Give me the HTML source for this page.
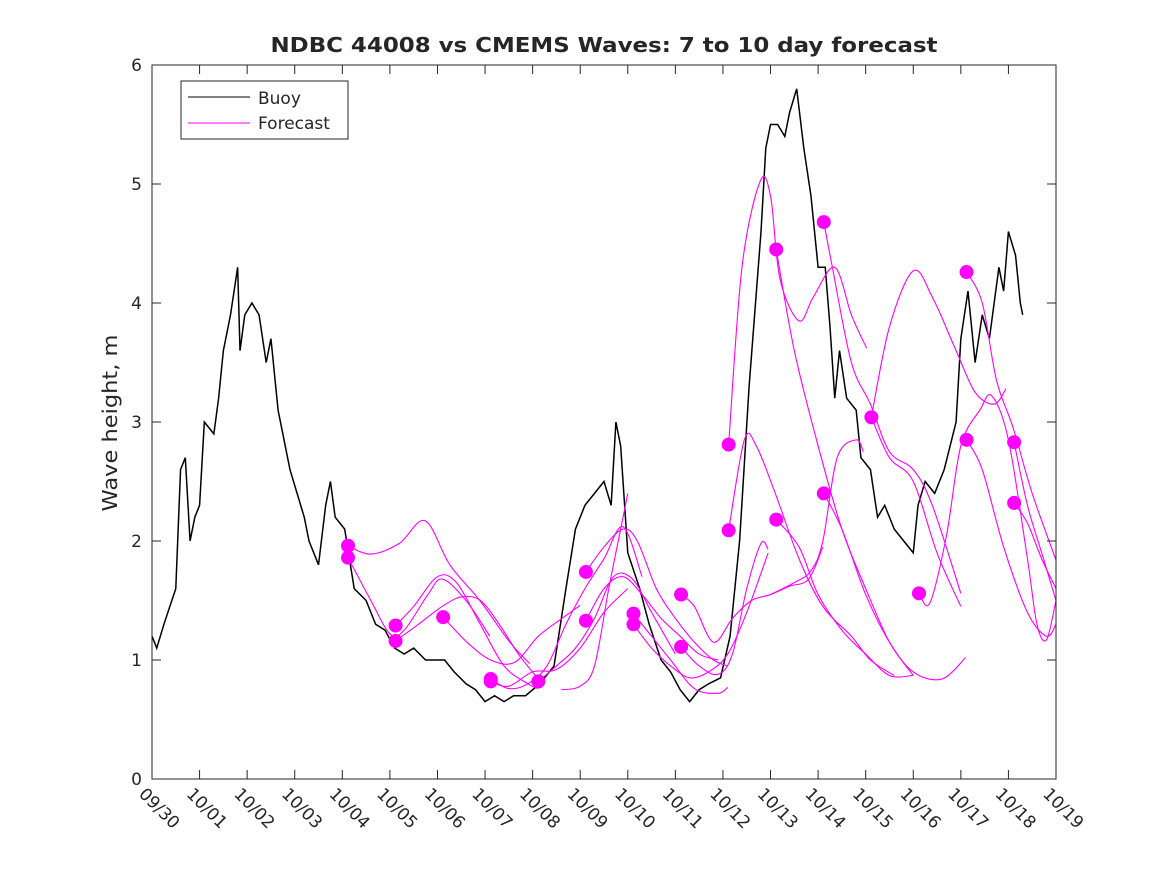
<!DOCTYPE html>
<html><head><meta charset="utf-8"><style>
body{margin:0;background:#fff}
svg{display:block}
text{font-family:"DejaVu Sans","Liberation Sans",sans-serif;fill:#262626}
</style></head><body>
<svg id="chart" width="1167" height="875"></svg>
<script>
const xTickLabels=["09/30","10/01","10/02","10/03","10/04","10/05","10/06","10/07","10/08","10/09","10/10","10/11","10/12","10/13","10/14","10/15","10/16","10/17","10/18","10/19"];
const yTicks=[0,1,2,3,4,5,6];
const buoyDays=[0,0.1,0.25,0.5,0.6,0.7,0.8,0.9,1.0,1.1,1.3,1.4,1.5,1.65,1.8,1.85,1.95,2.1,2.25,2.4,2.5,2.65,2.8,2.9,3.05,3.2,3.3,3.5,3.65,3.75,3.85,4.05,4.25,4.5,4.7,4.9,5.1,5.3,5.5,5.75,5.95,6.15,6.35,6.6,6.8,7.0,7.2,7.4,7.6,7.85,8.15,8.45,8.7,8.9,9.1,9.3,9.5,9.65,9.75,9.85,10.0,10.25,10.45,10.7,10.9,11.1,11.3,11.5,11.7,11.95,12.15,12.35,12.55,12.8,12.9,13.0,13.15,13.3,13.4,13.55,13.7,13.85,14.0,14.15,14.25,14.35,14.45,14.6,14.8,14.9,15.1,15.25,15.4,15.6,15.8,16.0,16.1,16.25,16.45,16.65,16.9,17.0,17.15,17.3,17.45,17.6,17.8,17.9,18.0,18.15,18.25,18.3];
const buoyVals=[1.2,1.1,1.3,1.6,2.6,2.7,2.0,2.2,2.3,3.0,2.9,3.2,3.6,3.9,4.3,3.6,3.9,4.0,3.9,3.5,3.7,3.1,2.8,2.6,2.4,2.2,2.0,1.8,2.3,2.5,2.2,2.1,1.6,1.5,1.3,1.25,1.1,1.05,1.1,1.0,1.0,1.0,0.9,0.8,0.75,0.65,0.7,0.65,0.7,0.7,0.8,0.95,1.6,2.1,2.3,2.4,2.5,2.3,3.0,2.8,1.9,1.6,1.3,1.0,0.9,0.75,0.65,0.75,0.8,0.85,1.2,2.0,3.3,4.6,5.3,5.5,5.5,5.4,5.6,5.8,5.3,4.9,4.3,4.3,3.8,3.2,3.6,3.2,3.1,2.7,2.6,2.2,2.3,2.1,2.0,1.9,2.3,2.5,2.4,2.6,3.0,3.7,4.1,3.5,3.9,3.7,4.3,4.1,4.6,4.4,4.0,3.9];
const fcDays=[
[4.12,4.6,5.2,5.74,6.26,6.89,7.52,7.94],
[4.12,4.6,5.0,5.3,5.8,6.1,6.6,7.1],
[5.12,5.5,6.0,6.4,6.9,7.4,7.9,8.12],
[5.12,5.6,6.1,6.5,6.9,7.3,7.7,8.1],
[6.12,6.62,7.12,7.62,8.12,8.62,9.0],
[7.12,7.5,7.9,8.3,8.7,9.1,9.5,9.9,10.3],
[7.12,7.5,8.0,8.5,9.0,9.5,10.0],
[8.12,8.5,8.9,9.3,9.7,10.1,10.5,11.0],
[8.6,9.0,9.3,9.6,9.85,10.0],
[9.12,9.5,9.9,10.2,10.6,11.0,11.4,11.8,12.1],
[9.12,9.5,9.9,10.3,10.7,11.1,11.5,11.9],
[10.12,10.5,10.9,11.4,11.9,12.1],
[10.12,10.5,10.9,11.3,11.7,12.1,12.5,12.95],
[11.12,11.4,11.8,12.2,12.6,13.0,13.4,13.8,14.1],
[11.12,11.5,11.9,12.2,12.5,12.8,12.95],
[12.12,12.45,12.7,13.1,13.6,14.1,14.7,15.1,15.6],
[12.12,12.4,12.78,13.0,13.2,13.6,13.9,14.35,14.7,15.02],
[13.12,13.5,14.0,14.5,15.0,15.5,16.0],
[13.12,13.6,14.0,14.5,15.0,15.5,16.0],
[13.0,13.5,13.85,14.1,14.4,14.8,14.95],
[14.12,14.3,14.7,15.1,15.5,16.0,16.4,17.0],
[14.12,14.5,15.0,15.5,16.0,16.6,17.1],
[15.12,15.5,16.0,16.4,16.9,17.3,17.7,17.95],
[15.12,15.5,16.0,16.5,17.0],
[16.12,16.35,16.7,17.0,17.4,17.65,18.0,18.4,18.6,18.8,19.0],
[17.12,17.45,17.75,18.1,18.5,19.0],
[17.12,17.45,17.9,18.4,18.8,19.0],
[18.12,18.4,18.7,19.0],
[18.12,18.4,18.7,19.0]];
const fcVals=[
[1.96,1.89,1.98,2.17,1.8,1.5,1.15,0.97],
[1.86,1.5,1.22,1.25,1.55,1.68,1.5,1.2],
[1.29,1.45,1.7,1.65,1.3,0.95,0.8,0.76],
[1.16,1.3,1.45,1.53,1.5,1.3,1.05,0.85],
[1.36,1.15,1.0,0.98,1.2,1.35,1.46],
[0.84,0.76,0.8,0.95,1.3,1.6,1.85,2.12,1.7],
[0.82,0.78,0.9,0.92,1.1,1.4,1.6],
[0.82,0.95,1.1,1.35,1.7,1.68,1.4,1.05],
[0.75,0.78,0.95,1.6,2.1,2.4],
[1.74,1.95,2.1,2.0,1.6,1.35,1.15,1.0,0.95],
[1.33,1.6,1.7,1.55,1.35,1.2,1.05,1.0],
[1.39,1.2,1.0,0.76,0.72,0.77],
[1.3,1.1,0.95,0.85,0.9,1.05,1.4,1.9],
[1.55,1.45,1.15,1.35,1.5,1.55,1.62,1.68,1.95],
[1.11,0.95,0.88,1.05,1.6,1.98,1.93],
[2.09,2.85,2.8,2.4,1.85,1.45,1.2,1.0,0.87],
[2.81,4.3,5.02,4.9,4.2,3.85,4.05,4.3,3.9,3.62],
[4.45,3.6,2.8,2.1,1.6,1.15,0.87],
[2.18,1.95,1.55,1.25,1.05,0.87,0.87],
[1.55,1.65,1.75,2.0,2.7,2.85,2.75],
[4.68,4.3,3.5,3.15,2.75,2.6,2.3,1.56],
[2.4,2.1,1.55,1.15,0.9,0.84,1.02],
[3.04,3.8,4.27,4.05,3.6,3.25,3.15,3.28],
[3.04,2.7,2.5,1.9,1.45],
[1.56,1.48,2.05,2.8,3.1,3.22,2.85,1.85,1.3,1.17,1.5],
[4.26,4.0,3.35,2.95,2.4,1.84],
[2.85,2.6,1.95,1.4,1.2,1.3],
[2.83,2.3,1.9,1.5],
[2.32,2.15,1.85,1.6]];
const dotDays=[4.12,4.12,5.12,5.12,6.12,7.12,7.12,8.12,9.12,9.12,10.12,10.12,11.12,11.12,12.12,12.12,13.12,13.12,14.12,14.12,15.12,16.12,17.12,17.12,18.12,18.12];
const dotVals=[1.96,1.86,1.29,1.16,1.36,0.84,0.82,0.82,1.74,1.33,1.39,1.3,1.55,1.11,2.81,2.09,4.45,2.18,4.68,2.4,3.04,1.56,4.26,2.85,2.83,2.32];

const L=152,R=1056,T=65,B=779;
const xs=d=>L+(R-L)*d/19;
const ys=v=>B-(B-T)*v/6;
const NS="http://www.w3.org/2000/svg";
const svg=document.getElementById('chart');
function mk(tag,attrs,parent){const e=document.createElementNS(NS,tag);for(const k in attrs)e.setAttribute(k,attrs[k]);(parent||svg).appendChild(e);return e;}
function smooth(px){let d=`M${px[0][0]},${px[0][1]}`;for(let i=0;i<px.length-1;i++){const p0=px[Math.max(0,i-1)],p1=px[i],p2=px[i+1],p3=px[Math.min(px.length-1,i+2)];d+=` C${p1[0]+(p2[0]-p0[0])/6},${p1[1]+(p2[1]-p0[1])/6} ${p2[0]-(p3[0]-p1[0])/6},${p2[1]-(p3[1]-p1[1])/6} ${p2[0]},${p2[1]}`;}return d;}

const bg=mk('rect',{x:L,y:T,width:R-L,height:B-T,fill:'#fff'});



const bp=mk('polyline',{points:buoyDays.map((d,i)=>xs(d)+','+ys(buoyVals[i])).join(' '),fill:'none',stroke:'#000','stroke-width':1.5});



fcDays.forEach((ds,i)=>{
  const p=mk('path',{d:smooth(ds.map((d,j)=>[xs(d),ys(fcVals[i][j])])),fill:'none',stroke:'#ff00ff','stroke-width':1.1});
  
  
});
dotDays.forEach((d,i)=>{
  const c=mk('circle',{cx:xs(d),cy:ys(dotVals[i]),r:7,fill:'#ff00ff'});
  
  
});

const box=mk('rect',{x:L,y:T,width:R-L,height:B-T,fill:'none',stroke:'#262626','stroke-width':1});



yTicks.forEach(v=>{
  const y=ys(v);
  mk('line',{x1:L,x2:L+9,y1:y,y2:y,stroke:'#262626'});
  mk('line',{x1:R,x2:R-9,y1:y,y2:y,stroke:'#262626'});
  const t=mk('text',{x:L-10,y:y+6,'text-anchor':'end','font-size':17});
  t.textContent=v;
  
  
});
xTickLabels.forEach((lab,i)=>{
  const x=xs(i);
  mk('line',{x1:x,x2:x,y1:B,y2:B-9,stroke:'#262626'});
  mk('line',{x1:x,x2:x,y1:T,y2:T+9,stroke:'#262626'});
  const t=mk('text',{x:x-14,y:B+16,'font-size':17,transform:`rotate(45 ${x-14} ${B+16})`});
  t.textContent=lab;
  
  
});

const title=mk('text',{x:604,y:52,'text-anchor':'middle','font-size':20,'font-weight':'bold',fill:'#000',textLength:667,lengthAdjust:'spacingAndGlyphs'});
title.textContent='NDBC 44008 vs CMEMS Waves: 7 to 10 day forecast';



const yl=mk('text',{x:117,y:423,'text-anchor':'middle','font-size':20,transform:'rotate(-90 117 423)',textLength:177,lengthAdjust:'spacingAndGlyphs'});
yl.textContent='Wave height, m';



const lg=mk('g',{});


mk('rect',{x:181,y:81,width:167,height:58,fill:'#fff',stroke:'#262626'},lg);
mk('line',{x1:188,x2:250,y1:97,y2:97,stroke:'#000'},lg);
mk('line',{x1:188,x2:250,y1:123,y2:123,stroke:'#ff00ff'},lg);
const l1=mk('text',{x:258,y:104,'font-size':17},lg);l1.textContent='Buoy';


const l2=mk('text',{x:258,y:129,'font-size':17},lg);l2.textContent='Forecast';


</script>
</body></html>
